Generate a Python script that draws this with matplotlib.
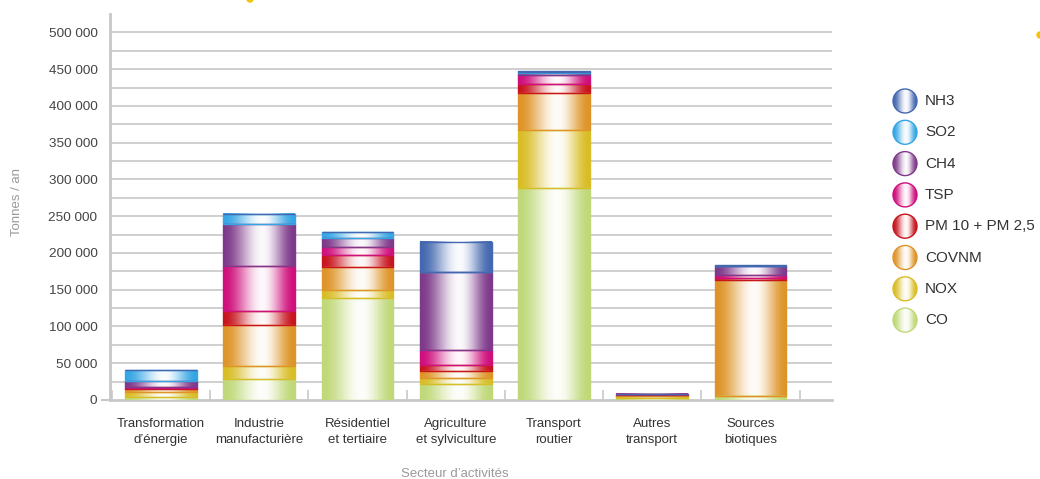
import numpy as np
import matplotlib
matplotlib.use("Agg")
import matplotlib.pyplot as plt
from matplotlib.patches import Circle
from matplotlib.colors import to_rgb

plt.rcParams["font.family"] = ["Liberation Sans", "DejaVu Sans"]

# --- data (tonnes / an), stacked bottom -> top ------------------------------
categories = ["Transformation\nd’énergie", "Industrie\nmanufacturière",
              "Résidentiel\net tertiaire", "Agriculture\net sylviculture",
              "Transport\nroutier", "Autres\ntransport", "Sources\nbiotiques"]

co    = [4500, 28600, 139000, 21800, 289000, 3000, 5000]
nox   = [6000, 17000, 10500, 8600, 78000, 2500, 500]
covnm = [4500, 57000, 31000, 9000, 50000, 1000, 158000]
pm    = [1200, 18000, 17000, 8000, 12500, 1500, 3000]
tsp   = [1000, 62000, 10500, 20500, 13000, 500, 3000]
ch4   = [9000, 57000, 13000, 106000, 2000, 0, 13000]
so2   = [14000, 14000, 8000, 0, 2000, 0, 0]
nh3   = [0, 0, 0, 41000, 500, 0, 1000]

series_names = ["CO", "NOX", "COVNM", "PM 10 + PM 2,5", "TSP", "CH4", "SO2", "NH3"]
series_vals = [co, nox, covnm, pm, tsp, ch4, so2, nh3]

yticks = list(range(0, 500001, 50000))

COLORS = {
    "NH3": "#4468b0",
    "SO2": "#35a6e4",
    "CH4": "#7e3a8a",
    "TSP": "#cf0f7c",
    "PM 10 + PM 2,5": "#c8141e",
    "COVNM": "#de9428",
    "NOX": "#d9bd26",
    "CO": "#c0d878",
}


def gradient(color, n=200, center=0.55):
    """Horizontal colour -> white -> colour strip, like a shaded cylinder."""
    t = np.linspace(0, 1, n)
    d = np.where(t < center, (center - t) / center, (t - center) / (1 - center))
    mix = 0.97 * 0.5 * (1 + np.cos(np.pi * np.clip(d, 0, 1)))
    base = np.array(to_rgb(color))
    rgb = base[None, :] * (1 - mix[:, None]) + mix[:, None]
    return rgb[None, :, :]


fig = plt.figure(figsize=(10.4, 4.79), dpi=100)
ax = fig.add_axes([110 / 1040, 79 / 479, 722 / 1040, 386 / 479])

x = np.arange(len(categories))
bottom = np.zeros(len(categories))
for name, vals in zip(series_names, series_vals):
    vals = np.array(vals, dtype=float)
    bars = ax.bar(x, vals, width=0.73, bottom=bottom, facecolor="none",
                  edgecolor=COLORS[name], linewidth=1.0, zorder=4)
    for b in bars:
        if b.get_height() <= 0:
            continue
        x0, y0 = b.get_x(), b.get_y()
        ax.imshow(gradient(COLORS[name]), extent=(x0, x0 + b.get_width(), y0, y0 + b.get_height()),
                  aspect="auto", interpolation="bilinear", zorder=3)
    bottom += vals

ax.set_xlim(-0.52, 6.83)
ax.set_ylim(0, 525000)
ax.set_aspect("auto")

# grid every 25 000, labels every 50 000
for v in range(25000, 500001, 25000):
    ax.axhline(v, color="#cfcfcf", lw=1.4, zorder=1)
ax.set_yticks(yticks)
ax.set_yticklabels([f"{v:,}".replace(",", " ") for v in yticks])
ax.tick_params(axis="y", length=0, pad=9, labelsize=9.7, labelcolor="#444444")

ax.set_xticks(x)
ax.set_xticklabels(categories, linespacing=1.45)
ax.tick_params(axis="x", length=0, pad=13, labelsize=9.5, labelcolor="#333333")
ax.set_xticks(np.arange(-0.5, 7.0, 1.0), minor=True)
ax.tick_params(axis="x", which="minor", direction="in", length=7, width=1.2, color="#c8c8c8")

for s in ("top", "right"):
    ax.spines[s].set_visible(False)
for s in ("left", "bottom"):
    ax.spines[s].set_color("#c8c8c8")
    ax.spines[s].set_linewidth(2)
ax.plot([-0.6, -0.52], [0, 0], color="#c8c8c8", lw=1.5, clip_on=False)

fig.text(17 / 1040, 1 - 202 / 479, "Tonnes / an", rotation=90, ha="center",
         va="center", fontsize=9.5, color="#9a9a9a")
fig.text(455 / 1040, 1 - 474 / 479, "Secteur d’activités", ha="center",
         va="center", fontsize=9.5, color="#9a9a9a")

# --- legend: shaded circles, top (NH3) to bottom (CO) -----------------------
lax = fig.add_axes([0, 0, 1, 1])
lax.set_xlim(0, 1040)
lax.set_ylim(479, 0)
lax.axis("off")
for i, name in enumerate(series_names[::-1]):
    cy = 101 + i * 31.3
    circ = Circle((905, cy), 12, facecolor="none", edgecolor=COLORS[name], lw=1.0, zorder=3)
    lax.add_patch(circ)
    im = lax.imshow(gradient(COLORS[name]), extent=(893, 917, cy + 12, cy - 12),
                    aspect="auto", interpolation="bilinear", zorder=2)
    im.set_clip_path(circ)
    lax.text(925, cy, name, va="center", ha="left", fontsize=11, color="#333333")
lax.set_xlim(0, 1040)
lax.set_ylim(479, 0)

# cut-off bits of the page showing at the edges
lax.add_patch(Circle((250, -1), 3, color="#f2c500", clip_on=False))
lax.add_patch(Circle((1040, 35), 3, color="#f2c500", clip_on=False))

fig.savefig("out.png", dpi=100)
